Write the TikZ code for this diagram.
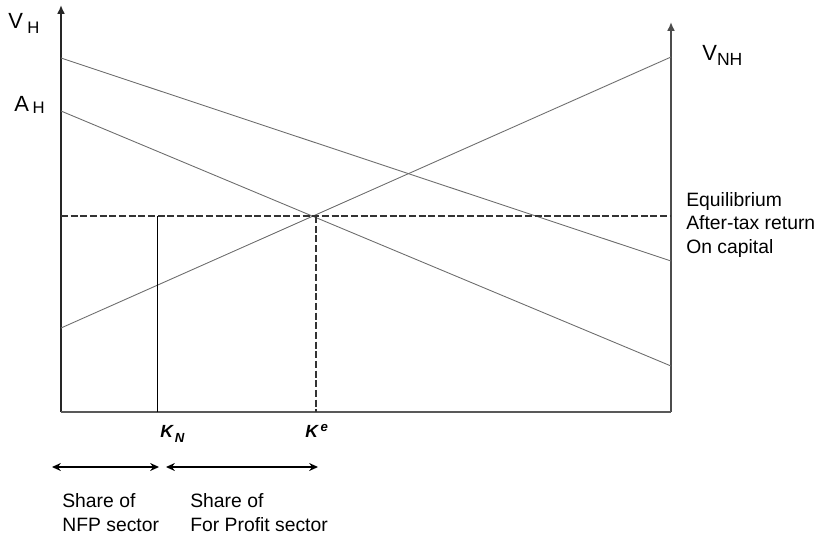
\documentclass[tikz,border=0pt]{standalone}
\usepackage{fontspec}
\setmainfont{Liberation Sans}
\usetikzlibrary{arrows.meta}

\begin{document}
\begin{tikzpicture}[x=0.02cm, y=-0.02cm,
    curve/.style={gray!85!black, line width=0.5pt},
    guide/.style={line width=1.3pt, black!80, dash pattern=on 4pt off 1.5pt},
    txt/.style={font=\fontsize{11}{13.3}\selectfont, anchor=base west, inner sep=0pt, align=left},
    axlabel/.style={font=\fontsize{12.5}{14}\selectfont, anchor=base west, inner sep=0pt},
    klabel/.style={font=\fontsize{10}{12}\selectfont\bfseries\itshape, anchor=base west, inner sep=0pt},
    share/.style={line width=1.2pt, {Stealth[length=5pt,width=4.5pt]}-{Stealth[length=5pt,width=4.5pt]}}]
    \useasboundingbox (0,0) rectangle (819,539);

    % Define axes corners
    \coordinate (o) at (61, 412);     % Origin left
    \coordinate (vh) at (61, 5);      % Top of left axis
    \coordinate (r) at (671, 412);    % Origin right
    \coordinate (vnh) at (671, 22);   % Top of right axis

    % Define end points of the schedules
    \coordinate (p1) at (61, 58);     % Upper falling line, left
    \coordinate (p2) at (671, 261);   % Upper falling line, right
    \coordinate (q1) at (61, 111);    % A_H line, left
    \coordinate (q2) at (671, 366);   % A_H line, right
    \coordinate (u1) at (61, 328);    % Rising line, left
    \coordinate (u2) at (671, 57);    % Rising line, right

    % Equilibrium and capital shares
    \coordinate (e) at (316, 216);    % Equilibrium point
    \coordinate (eL) at (61, 216);
    \coordinate (eR) at (671, 216);
    \coordinate (ke) at (316, 412);
    \coordinate (kn0) at (157, 216);
    \coordinate (kn) at (157, 412);

    % Share arrows
    \coordinate (s1) at (52, 467);
    \coordinate (s2) at (159, 467);
    \coordinate (s3) at (166, 467);
    \coordinate (s4) at (318, 467);

    % Draw the axes
    \draw[line width=1.7pt, black!85, -{Latex[length=5pt,width=4.5pt]}] (o) -- (vh);
    \draw[line width=1.5pt, black!70, -{Latex[length=5pt,width=4.5pt]}] (r) -- (vnh);
    \draw[line width=1.1pt, black!65] (o) -- (r);

    % Draw the schedules
    \draw[curve] (p1) -- (p2);
    \draw[curve] (q1) -- (q2);
    \draw[curve] (u1) -- (u2);

    % Draw equilibrium guides
    \draw[guide] (eL) -- (eR);
    \draw[guide] (e) -- (ke);
    \draw[black, line width=0.45pt] (kn0) -- (kn);

    % Draw share arrows
    \draw[share] (s1) -- (s2);
    \draw[share] (s3) -- (s4);

    % Label axes
    \node[axlabel] (lvh) at (8, 28) {V\hspace{2.5pt}\raisebox{-0.45ex}{\fontsize{9.5}{10}\selectfont H}};
    \node[axlabel] (lah) at (14, 111) {A\hspace{2pt}\raisebox{-0.2ex}{\fontsize{9.5}{10}\selectfont H}};
    \node[axlabel] (lvnh) at (702, 60) {V\raisebox{-0.5ex}{\fontsize{10}{10}\selectfont NH}};

    % Label equilibrium return
    \node[txt] (leq) at (686, 253) {Equilibrium\\After-tax return\\On capital};

    % Label capital points
    \node[klabel] (lkn) at (160, 437) {K\hspace{1pt}\raisebox{-0.6ex}{\fontsize{7.5}{9}\selectfont N}};
    \node[klabel] (lke) at (305, 437) {K\hspace{1.5pt}\raisebox{0.6ex}{\fontsize{7.5}{9}\selectfont e}};

    % Label shares
    \node[txt] (lnfp) at (62, 531) {Share of\\NFP sector};
    \node[txt] (lfp) at (190, 531) {Share of\\For Profit sector};
\end{tikzpicture}
\end{document}
